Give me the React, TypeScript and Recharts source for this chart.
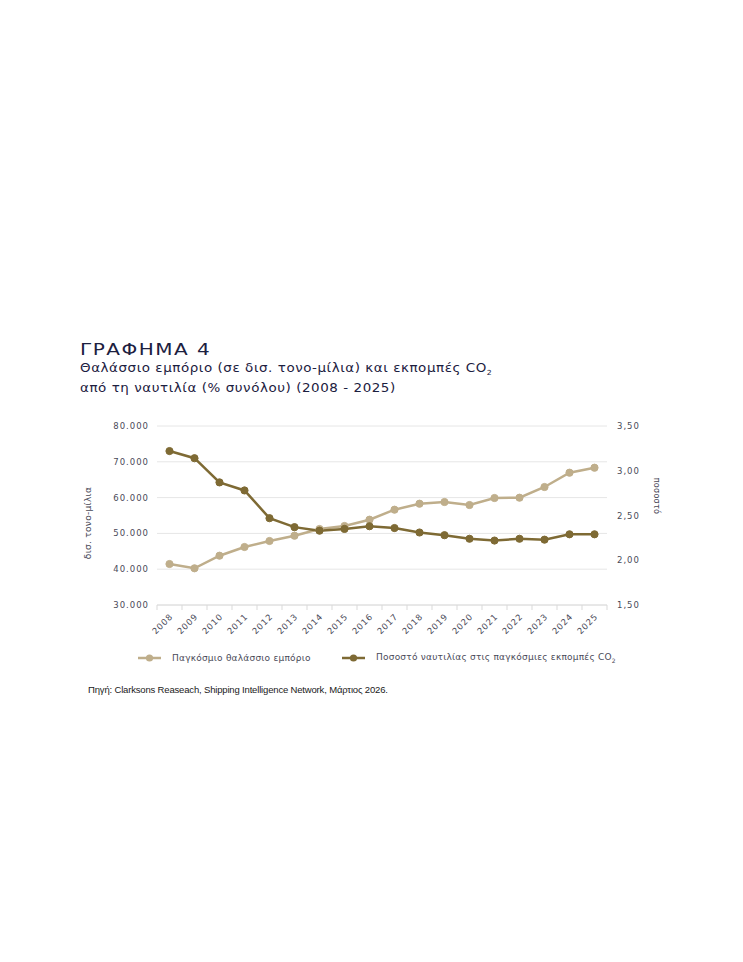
import React from 'react';
import { LineChart, Line, XAxis, YAxis, CartesianGrid } from 'recharts';

const YEARS = ['2008','2009','2010','2011','2012','2013','2014','2015','2016','2017','2018','2019','2020','2021','2022','2023','2024','2025'];
const TRADE = [41450, 40250, 43770, 46200, 47880, 49360, 51230, 52070, 53830, 56620, 58300, 58770, 57930, 59890, 59970, 62960, 66960, 68350];
const CO2_SHARE = [3.22, 3.14, 2.87, 2.78, 2.47, 2.37, 2.33, 2.35, 2.38, 2.36, 2.31, 2.28, 2.24, 2.22, 2.24, 2.23, 2.29, 2.29];
const LEFT_TICKS = [30000, 40000, 50000, 60000, 70000, 80000];
const RIGHT_TICKS = [1.5, 2.0, 2.5, 3.0, 3.5];

const TITLE = 'ΓΡΑΦΗΜΑ 4';
const SUBTITLE_1 = 'Θαλάσσιο εμπόριο (σε δισ. τονο-μίλια) και εκπομπές CO';
const SUBTITLE_2 = 'από τη ναυτιλία (% συνόλου) (2008 - 2025)';
const LEFT_LABEL = 'δισ. τονο-μίλια';
const RIGHT_LABEL = 'ποσοστό';
const SOURCE = 'Πηγή: Clarksons Reaseach, Shipping Intelligence Network, Μάρτιος 2026.';

const LIGHT = '#bfae8b';
const DARK = '#7e6a34';
const TEXT = '#4a4a58';
const NAVY = '#1c2040';
const FONT = '"DejaVu Sans", sans-serif';

const data = YEARS.map((y, i) => ({ year: y, trade: TRADE[i], co2: CO2_SHARE[i] }));

const fmtThousands = (v: number) => v.toLocaleString('de-DE');
const fmtPct = (v: number) => v.toFixed(2).replace('.', ',');

const PLOT_W = 450;
const HALF = PLOT_W / YEARS.length / 2;

const XTick = (props: any) => {
  const { x, y, payload, index } = props;
  const top = y - 6;
  return (
    <g>
      <line x1={x - HALF} x2={x - HALF} y1={top} y2={top + 5} stroke="#d9d9d9" />
      {index === YEARS.length - 1 && (
        <line x1={x + HALF} x2={x + HALF} y1={top} y2={top + 5} stroke="#d9d9d9" />
      )}
      <text
        x={x + 4}
        y={y + 6}
        textAnchor="end"
        transform={`rotate(-45 ${x + 4} ${y + 6})`}
        fontSize={8.5}
        letterSpacing={0.9}
        fill={TEXT}
        fontFamily={FONT}
      >
        {payload.value}
      </text>
    </g>
  );
};

const LEGEND = [
  { name: 'Παγκόσμιο θαλάσσιο εμπόριο', color: LIGHT, left: 138 },
  { name: 'Ποσοστό ναυτιλίας στις παγκόσμιες εκπομπές CO', sub: '2', color: DARK, left: 342 },
];

const tickStyle = { fontSize: 8.5, fill: TEXT, fontFamily: FONT, letterSpacing: 1 };

export default function App() {
  return (
    <div style={{ position: 'absolute', left: 0, top: 0, width: 743, height: 962, background: '#fff', fontFamily: FONT }}>
      <div style={{ position: 'absolute', left: 80, top: 341, fontSize: 16, lineHeight: '18px', letterSpacing: 1.2, color: NAVY, whiteSpace: 'nowrap', transform: 'scaleX(1.25)', transformOrigin: 'left top' }}>
        {TITLE}
      </div>
      <div style={{ position: 'absolute', left: 80, top: 361, fontSize: 12, lineHeight: '15px', letterSpacing: 0.5, color: NAVY, whiteSpace: 'nowrap', transform: 'scaleX(1.12)', transformOrigin: 'left top' }}>
        <div>
          {SUBTITLE_1}
          <span style={{ fontSize: 7, verticalAlign: '-3px' }}>2</span>
        </div>
        <div>{SUBTITLE_2}</div>
      </div>

      <div style={{ position: 'absolute', left: 0, top: 400 }}>
        <LineChart width={743} height={260} data={data} margin={{ top: 26, right: 76, bottom: 5, left: 87 }}>
          <CartesianGrid vertical={false} stroke="#e6e6e6" />
          <XAxis
            dataKey="year"
            height={50}
            padding={{ left: HALF, right: HALF }}
            axisLine={{ stroke: '#dcdcdc' }}
            tickLine={false}
            tickSize={6}
            tickMargin={0}
            interval={0}
            tick={<XTick />}
          />
          <YAxis
            width={70}
            domain={[30000, 80000]}
            ticks={LEFT_TICKS}
            tickFormatter={fmtThousands}
            axisLine={false}
            tickLine={false}
            tickMargin={2}
            tick={tickStyle}
          />
          <YAxis
            yAxisId="right"
            orientation="right"
            width={60}
            domain={[1.5, 3.5]}
            ticks={RIGHT_TICKS}
            tickFormatter={fmtPct}
            axisLine={false}
            tickLine={false}
            tickMargin={4}
            tick={tickStyle}
          />
          <Line
            dataKey="trade"
            stroke={LIGHT}
            strokeWidth={2.5}
            dot={{ r: 3.6, fill: LIGHT, stroke: LIGHT, strokeWidth: 1 }}
            activeDot={false}
            isAnimationActive={false}
          />
          <Line
            yAxisId="right"
            dataKey="co2"
            stroke={DARK}
            strokeWidth={2.5}
            dot={{ r: 3.6, fill: DARK, stroke: DARK, strokeWidth: 1 }}
            activeDot={false}
            isAnimationActive={false}
          />
        </LineChart>
      </div>

      <div style={{ position: 'absolute', left: 88, top: 523, transform: 'translate(-50%, -50%) rotate(-90deg)', fontSize: 9, letterSpacing: 0.3, color: TEXT, whiteSpace: 'nowrap' }}>
        {LEFT_LABEL}
      </div>
      <div style={{ position: 'absolute', left: 656, top: 496, transform: 'translate(-50%, -50%) rotate(90deg)', fontSize: 8, letterSpacing: 0.3, color: TEXT, whiteSpace: 'nowrap' }}>
        {RIGHT_LABEL}
      </div>

      {LEGEND.map((l) => (
        <div key={l.name} style={{ position: 'absolute', left: l.left, top: 651, height: 14, display: 'flex', alignItems: 'center', fontSize: 9, letterSpacing: 0.22, color: TEXT, whiteSpace: 'nowrap' }}>
          <svg width={23} height={14} style={{ marginRight: 11 }}>
            <line x1={0} x2={23} y1={7} y2={7} stroke={l.color} strokeWidth={2.5} />
            <circle cx={11.5} cy={7} r={3.6} fill={l.color} />
          </svg>
          <span>
            {l.name}
            {l.sub && <span style={{ fontSize: 6, verticalAlign: '-3px' }}>{l.sub}</span>}
          </span>
        </div>
      ))}

      <div style={{ position: 'absolute', left: 88, top: 683, fontSize: 9.5, letterSpacing: -0.17, lineHeight: '13px', color: '#1a1a1a', fontFamily: '"Liberation Sans Narrow", sans-serif', whiteSpace: 'nowrap' }}>
        {SOURCE}
      </div>
    </div>
  );
}
